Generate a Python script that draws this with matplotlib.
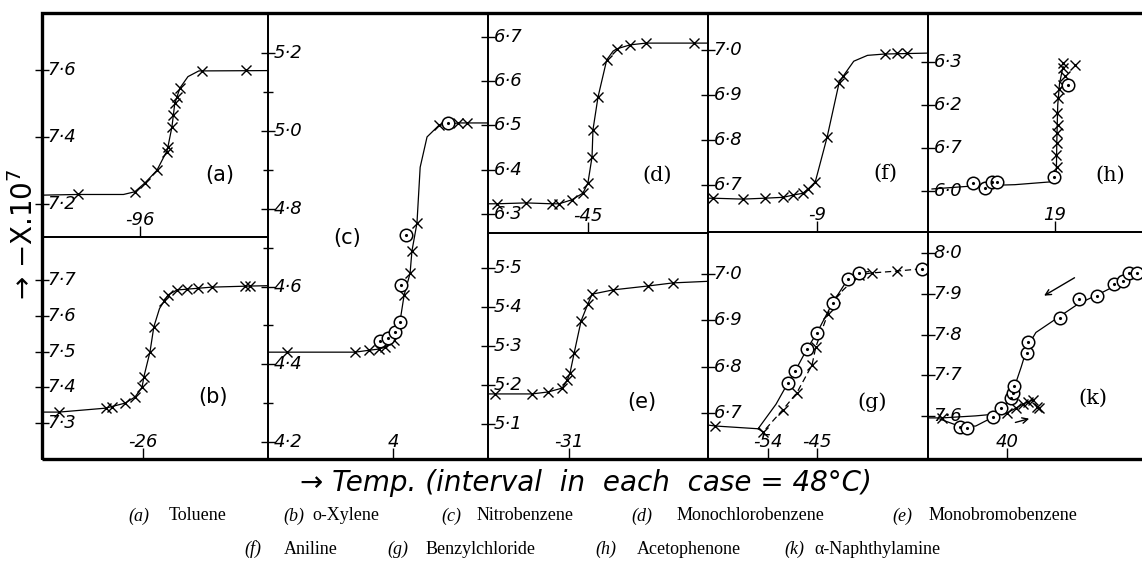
import matplotlib
matplotlib.use("Agg")
import matplotlib.pyplot as plt
from matplotlib.patches import Rectangle

# figure size in pixels (dpi 100)
W, H = 1142, 582

# ---- panel (a) Toluene ----
a_T = [-109.2, -97.1, -94.9, -92.4, -90.3, -90.1, -89.2, -89.0, -88.6, -88.1, -87.5, -82.8, -73.5]
a_chi = [7.23, 7.236, 7.263, 7.30, 7.355, 7.37, 7.43, 7.466, 7.50, 7.52, 7.546, 7.597, 7.60]
a_line_T = [-116.8, -109.2, -99.5, -97.1, -94.9, -92.4, -90.2, -89.2, -88.6, -87.5, -85.8, -83.5, -68.8]
a_line_chi = [7.226, 7.228, 7.228, 7.236, 7.263, 7.30, 7.36, 7.43, 7.50, 7.546, 7.58, 7.597, 7.598]

# ---- panel (b) o-Xylene ----
b_T = [-43.8, -33.9, -32.6, -29.8, -27.7, -26.2, -25.8, -24.5, -23.7, -21.5, -20.7,
       -18.8, -16.7, -14.3, -11.4, -4.3, -3.3]
b_chi = [7.331, 7.342, 7.345, 7.356, 7.373, 7.40, 7.43, 7.50, 7.569, 7.641, 7.658,
         7.672, 7.675, 7.678, 7.68, 7.683, 7.683]
b_line_T = [-47.4, -43.8, -33.9, -29.8, -27.7, -26.2, -25.8, -24.5, -23.7, -22.5, -21.5,
            -20.7, -18.8, -11.4, -3.3, 0.5]
b_line_chi = [7.331, 7.331, 7.342, 7.356, 7.373, 7.40, 7.43, 7.50, 7.569, 7.62, 7.641,
              7.658, 7.672, 7.68, 7.683, 7.684]

# ---- panel (c) Nitrobenzene ----
c_x_T = [-19.1, -4.3, -1.2, 0.9, 2.3, 3.3, 4.2, 6.4, 7.7, 8.1, 9.2, 14.0, 18.2, 20.2]
c_x_chi = [4.431, 4.431, 4.436, 4.439, 4.444, 4.454, 4.462, 4.578, 4.634, 4.691, 4.763,
           5.015, 5.021, 5.021]
c_o_T = [1.2, 2.9, 4.4, 5.5, 5.7, 6.8, 16.0]
c_o_chi = [4.459, 4.467, 4.483, 4.508, 4.604, 4.732, 5.021]
c_line_T = [-23.3, -19.1, -4.3, -1.2, 0.9, 2.3, 3.3, 4.2, 5.5, 6.4, 7.7, 8.1, 9.2, 9.9,
            11.4, 14.0, 18.2, 24.7]
c_line_chi = [4.431, 4.431, 4.431, 4.436, 4.439, 4.444, 4.454, 4.462, 4.51, 4.578, 4.634,
              4.691, 4.763, 4.907, 4.985, 5.015, 5.021, 5.021]

# ---- panel (d) Monochlorobenzene ----
d_T = [-64.9, -58.5, -52.9, -51.3, -48.5, -46.1, -45.0, -44.1, -43.9, -42.8, -40.9,
       -38.7, -35.8, -32.3, -21.9]
d_chi = [6.323, 6.325, 6.323, 6.323, 6.332, 6.347, 6.37, 6.429, 6.49, 6.564, 6.648,
         6.673, 6.682, 6.686, 6.686]
d_line_T = [-66.8, -64.9, -58.5, -52.9, -51.3, -48.5, -46.1, -45.0, -44.1, -43.9, -42.8,
            -40.9, -39.5, -38.7, -35.8, -32.3, -21.9, -18.8]
d_line_chi = [6.323, 6.323, 6.325, 6.323, 6.323, 6.332, 6.347, 6.37, 6.429, 6.49, 6.564,
              6.648, 6.668, 6.673, 6.682, 6.686, 6.686, 6.686]

# ---- panel (e) Monobromobenzene ----
e_T = [-47.2, -39.1, -35.6, -32.5, -31.4, -30.8, -29.9, -28.4, -26.9, -26.0, -21.4, -13.8, -8.3]
e_chi = [5.177, 5.177, 5.182, 5.192, 5.213, 5.231, 5.282, 5.364, 5.408, 5.433, 5.444, 5.454, 5.462]
e_line_T = [-48.7, -47.2, -39.1, -35.6, -32.5, -31.4, -30.8, -29.9, -28.4, -26.9, -26.0,
            -21.4, -13.8, -8.3, -0.7]
e_line_chi = [5.177, 5.177, 5.177, 5.182, 5.192, 5.213, 5.231, 5.282, 5.364, 5.408, 5.433,
              5.444, 5.454, 5.462, 5.466]

# ---- panel (f) Aniline ----
f_T = [-31.7, -25.2, -20.4, -16.4, -14.2, -12.1, -11.0, -9.4, -6.8, -4.2, -3.3, 5.8, 8.5, 10.7]
f_chi = [6.671, 6.669, 6.671, 6.673, 6.678, 6.682, 6.691, 6.707, 6.807, 6.927, 6.942,
         6.991, 6.993, 6.993]
f_line_T = [-32.8, -31.7, -25.2, -20.4, -16.4, -14.2, -12.1, -11.0, -9.4, -6.8, -4.2,
            -3.3, -1.0, 2.0, 5.8, 15.2]
f_line_chi = [6.671, 6.671, 6.669, 6.671, 6.673, 6.678, 6.682, 6.691, 6.707, 6.807, 6.927,
              6.942, 6.975, 6.988, 6.991, 6.993]

# ---- panel (g) Benzylchloride ----
g_x_T = [-63.75, -54.9, -51.25, -48.7, -45.9, -45.2, -43.0, -41.7, -37.3, -34.9, -30.3]
g_x_chi = [6.673, 6.660, 6.708, 6.744, 6.804, 6.843, 6.914, 6.948, 6.998, 7.002, 7.006]
g_o_T = [-50.3, -49.0, -46.8, -45.0, -42.1, -39.3, -37.3, -25.7]
g_o_chi = [6.766, 6.791, 6.839, 6.873, 6.938, 6.989, 7.002, 7.011]
g_base_T = [-65.0, -63.75, -55.8]
g_base_chi = [6.675, 6.673, 6.667]
g_oline_T = [-55.8, -52.5, -50.3, -49.0, -46.8, -45.0, -42.1, -39.3, -37.3, -35.5]
g_oline_chi = [6.667, 6.72, 6.766, 6.791, 6.839, 6.873, 6.938, 6.989, 7.002, 7.005]
g_xline_T = [-55.8, -54.9, -51.25, -48.7, -45.9, -45.2, -43.0, -41.7, -37.3, -34.9, -30.3, -25.7]
g_xline_chi = [6.667, 6.660, 6.708, 6.744, 6.804, 6.843, 6.914, 6.948, 6.998, 7.002, 7.006, 7.011]

# ---- panel (h) Acetophenone ----
h_o_T = [0.6, 3.3, 4.9, 6.0, 18.8, 21.9]
h_o_chi = [6.019, 6.007, 6.021, 6.021, 6.033, 6.246]
h_x_T = [19.4, 19.2, 19.4, 19.4, 19.7, 19.4, 19.7, 19.9, 20.8, 21.2, 20.8, 20.8, 23.5]
h_x_chi = [6.056, 6.084, 6.112, 6.135, 6.153, 6.181, 6.216, 6.237, 6.246, 6.267, 6.286,
           6.298, 6.293]
h_line_T = [-8.6, 0.6, 10.0, 18.6, 19.3, 19.4, 19.6, 20.0, 20.8]
h_line_chi = [6.005, 6.012, 6.015, 6.022, 6.05, 6.12, 6.20, 6.25, 6.29]

# ---- panel (k) alpha-Naphthylamine ----
k_o_T = [29.5, 31.0, 36.9, 38.7, 40.9, 41.3, 41.6, 44.5, 44.7, 51.9, 56.1, 60.2, 64.0,
         66.0, 67.4, 69.1]
k_o_chi = [7.572, 7.570, 7.597, 7.619, 7.644, 7.656, 7.673, 7.754, 7.781, 7.840, 7.887,
           7.894, 7.924, 7.931, 7.951, 7.951]
k_x_T = [25.4, 40.0, 42.0, 43.6, 44.7, 45.8, 46.7, 47.2]
k_x_chi = [7.595, 7.607, 7.619, 7.629, 7.634, 7.639, 7.622, 7.619]
k_oline_T = [25.0, 29.5, 33.0, 36.9, 38.7, 40.5, 41.5, 43.2, 44.6, 46.5, 51.9, 56.1, 60.2,
             64.0, 67.4, 70.3]
k_oline_chi = [7.592, 7.574, 7.575, 7.597, 7.615, 7.64, 7.665, 7.72, 7.77, 7.805, 7.845,
               7.876, 7.897, 7.918, 7.94, 7.955]
k_xline_T = [22.3, 25.4, 33.0, 40.0, 42.0, 43.6, 44.7, 45.8]
k_xline_chi = [7.595, 7.595, 7.600, 7.607, 7.619, 7.629, 7.634, 7.639]
k_cool_arrow = [(55.7, 7.943), (47.8, 7.892)]
k_heat_arrow = [(41.3, 7.582), (45.6, 7.595)]

# ---- tick values and printed labels ----
a_yticks, a_ylabels = [7.2, 7.4, 7.6], ["7·2", "7·4", "7·6"]
b_yticks, b_ylabels = [7.3, 7.4, 7.5, 7.6, 7.7], ["7·3", "7·4", "7·5", "7·6", "7·7"]
c_yticks, c_ylabels = [4.2, 4.4, 4.6, 4.8, 5.0, 5.2], ["4·2", "4·4", "4·6", "4·8", "5·0", "5·2"]
c_minor = [4.3, 4.5, 4.7, 4.9, 5.1]
d_yticks, d_ylabels = [6.3, 6.4, 6.5, 6.6, 6.7], ["6·3", "6·4", "6·5", "6·6", "6·7"]
e_yticks, e_ylabels = [5.1, 5.2, 5.3, 5.4, 5.5], ["5·1", "5·2", "5·3", "5·4", "5·5"]
f_yticks, f_ylabels = [6.7, 6.8, 6.9, 7.0], ["6·7", "6·8", "6·9", "7·0"]
g_yticks, g_ylabels = [6.7, 6.8, 6.9, 7.0], ["6·7", "6·8", "6·9", "7·0"]
h_yticks, h_ylabels = [6.0, 6.1, 6.2, 6.3], ["6·0", "6·7", "6·2", "6·3"]
k_yticks, k_ylabels = [7.6, 7.7, 7.8, 7.9, 8.0], ["7·6", "7·7", "7·8", "7·9", "8·0"]

# one temperature tick per panel (two in g)
a_xticks, a_xlabels = [-96], ["-96"]
b_xticks, b_xlabels = [-26], ["-26"]
c_xticks, c_xlabels = [4], ["4"]
d_xticks, d_xlabels = [-45], ["-45"]
e_xticks, e_xlabels = [-31], ["-31"]
f_xticks, f_xlabels = [-9], ["-9"]
g_xticks, g_xlabels = [-54, -45], ["-54", "-45"]
h_xticks, h_xlabels = [19], ["19"]
k_xticks, k_xlabels = [40], ["40"]

caption_row1 = [("(a)", "Toluene"), ("(b)", "o-Xylene"), ("(c)", "Nitrobenzene"),
                ("(d)", "Monochlorobenzene"), ("(e)", "Monobromobenzene")]
caption_row2 = [("(f)", "Aniline"), ("(g)", "Benzylchloride"), ("(h)", "Acetophenone"),
                ("(k)", "α-Naphthylamine")]

# layout in pixels (x0, x1, y0, y1), measured from top-left
BOXES = {
    "a": (42, 268, 13, 237), "b": (42, 268, 237, 459), "c": (268, 488, 13, 459),
    "d": (488, 708, 13, 233), "e": (488, 708, 233, 459), "f": (708, 928, 13, 232),
    "g": (708, 928, 232, 459), "h": (928, 1142, 13, 232), "k": (928, 1142, 232, 459),
}
LIMITS = {
    "a": ((-116.8, -68.8), (7.101, 7.770)), "b": ((-47.4, 0.5), (7.200, 7.820)),
    "c": ((-23.3, 24.7), (4.156, 5.304)), "d": ((-66.8, -18.8), (6.257, 6.754)),
    "e": ((-48.7, -0.7), (5.010, 5.590)), "f": ((-32.8, 15.2), (6.596, 7.082)),
    "g": ((-65.0, -24.6), (6.602, 7.090)), "h": ((-9.5, 38.5), (5.905, 6.414)),
    "k": ((22.3, 70.3), (7.494, 8.052)),
}
TAG_POS = {"a": (220, 175), "b": (213, 397), "c": (347, 238), "d": (657, 175),
           "e": (642, 402), "f": (885, 173), "g": (872, 402), "h": (1110, 175),
           "k": (1093, 398)}

LW = 0.9


def add_panel(fig, key, yticks, ylabels, xticks, xlabels, minor=()):
    """Creates one sub-panel placed by its pixel box and styles it like the plate."""
    x0, x1, y0, y1 = BOXES[key]
    ax = fig.add_axes([x0 / W, 1 - y1 / H, (x1 - x0) / W, (y1 - y0) / H])
    xlim, ylim = LIMITS[key]
    ax.set_xlim(xlim)
    ax.set_ylim(ylim)
    ax.patch.set_visible(False)
    for s in ax.spines.values():
        s.set_linewidth(1.3)
    if key in ("h", "k"):
        ax.spines["right"].set_visible(False)
    ax.set_yticks(yticks)
    ax.set_yticks(list(minor), minor=True)
    ax.set_xticks(xticks)
    ax.tick_params(axis="y", which="major", direction="inout", length=10, width=1.0,
                   labelleft=False)
    ax.tick_params(axis="y", which="minor", direction="inout", length=7, width=1.0)
    ax.tick_params(axis="x", direction="in", length=8, width=1.0, labelbottom=False)
    for v, lab in zip(yticks, ylabels):
        ax.annotate(lab, xy=(0, v), xycoords=("axes fraction", "data"), xytext=(4, 0),
                    textcoords="offset points", ha="left", va="center",
                    fontsize=13, style="italic")
    for t, lab in zip(xticks, xlabels):
        ax.annotate(lab, xy=(t, 0), xycoords=("data", "axes fraction"), xytext=(0, 12),
                    textcoords="offset points", ha="center", va="center",
                    fontsize=13, style="italic")
    tx, ty = TAG_POS[key]
    family = "DejaVu Sans" if key in ("a", "b", "c", "e") else "DejaVu Serif"
    fig.text(tx / W, 1 - ty / H, f"({key})", ha="center", va="center", fontsize=15,
             family=family)
    return ax


def crosses(ax, T, chi):
    ax.plot(T, chi, ls="none", marker="x", ms=7.5, mew=1.0, color="black", zorder=3)


def circles(ax, T, chi):
    ax.plot(T, chi, ls="none", marker="o", ms=9, mfc="white", mec="black", mew=1.1, zorder=4)
    ax.plot(T, chi, ls="none", marker=".", ms=2.5, color="black", zorder=5)


def curve(ax, T, chi, ls="-"):
    ax.plot(T, chi, color="black", lw=LW, ls=ls, zorder=2)


if __name__ == "__main__":
    fig = plt.figure(figsize=(W / 100, H / 100), dpi=100)

    ax = add_panel(fig, "a", a_yticks, a_ylabels, a_xticks, a_xlabels)
    curve(ax, a_line_T, a_line_chi)
    crosses(ax, a_T, a_chi)

    ax = add_panel(fig, "b", b_yticks, b_ylabels, b_xticks, b_xlabels)
    curve(ax, b_line_T, b_line_chi)
    crosses(ax, b_T, b_chi)

    ax = add_panel(fig, "c", c_yticks, c_ylabels, c_xticks, c_xlabels, minor=c_minor)
    curve(ax, c_line_T, c_line_chi)
    crosses(ax, c_x_T, c_x_chi)
    circles(ax, c_o_T, c_o_chi)

    ax = add_panel(fig, "d", d_yticks, d_ylabels, d_xticks, d_xlabels)
    curve(ax, d_line_T, d_line_chi)
    crosses(ax, d_T, d_chi)

    ax = add_panel(fig, "e", e_yticks, e_ylabels, e_xticks, e_xlabels)
    curve(ax, e_line_T, e_line_chi)
    crosses(ax, e_T, e_chi)

    ax = add_panel(fig, "f", f_yticks, f_ylabels, f_xticks, f_xlabels)
    curve(ax, f_line_T, f_line_chi)
    crosses(ax, f_T, f_chi)

    ax = add_panel(fig, "g", g_yticks, g_ylabels, g_xticks, g_xlabels)
    curve(ax, g_base_T, g_base_chi)
    curve(ax, g_oline_T, g_oline_chi)
    curve(ax, g_xline_T, g_xline_chi, ls=(0, (5, 3)))
    crosses(ax, g_x_T, g_x_chi)
    circles(ax, g_o_T, g_o_chi)

    ax = add_panel(fig, "h", h_yticks, h_ylabels, h_xticks, h_xlabels)
    curve(ax, h_line_T, h_line_chi)
    crosses(ax, h_x_T, h_x_chi)
    circles(ax, h_o_T, h_o_chi)

    ax = add_panel(fig, "k", k_yticks, k_ylabels, k_xticks, k_xlabels)
    curve(ax, k_oline_T, k_oline_chi)
    curve(ax, k_xline_T, k_xline_chi)
    crosses(ax, k_x_T, k_x_chi)
    circles(ax, k_o_T, k_o_chi)
    for start, end in (k_cool_arrow, k_heat_arrow):
        ax.annotate("", xy=end, xytext=start,
                    arrowprops=dict(arrowstyle="->", color="black", lw=1.0))

    # heavy outer frame (its right side runs off the page, as in the scan)
    fig.add_artist(Rectangle((42 / W, 1 - 459 / H), 1.0, (459 - 13) / H,
                             transform=fig.transFigure, fill=False, lw=2.4,
                             edgecolor="black"))

    fig.text(24 / W, 1 - 234 / H, "→ −X.10$^7$", rotation=90, ha="center",
             va="center", fontsize=20)
    fig.text(586 / W, 1 - 483 / H, "→ Temp. (interval  in  each  case = 48°C)",
             ha="center", va="center", fontsize=20, style="italic")

    for row, y, label_x, name_x in (
        (caption_row1, 516, [128, 283, 441, 631, 892], [169, 312, 477, 677, 929]),
        (caption_row2, 549, [244, 387, 595, 784], [284, 426, 637, 814]),
    ):
        for (lab, name), lx, nx in zip(row, label_x, name_x):
            fig.text(lx / W, 1 - y / H, lab, ha="left", va="center", fontsize=13,
                     family="Liberation Serif", style="italic")
            fig.text(nx / W, 1 - y / H, name, ha="left", va="center", fontsize=13,
                     family="Liberation Serif")

    fig.savefig("out.png", dpi=100, facecolor="white")
